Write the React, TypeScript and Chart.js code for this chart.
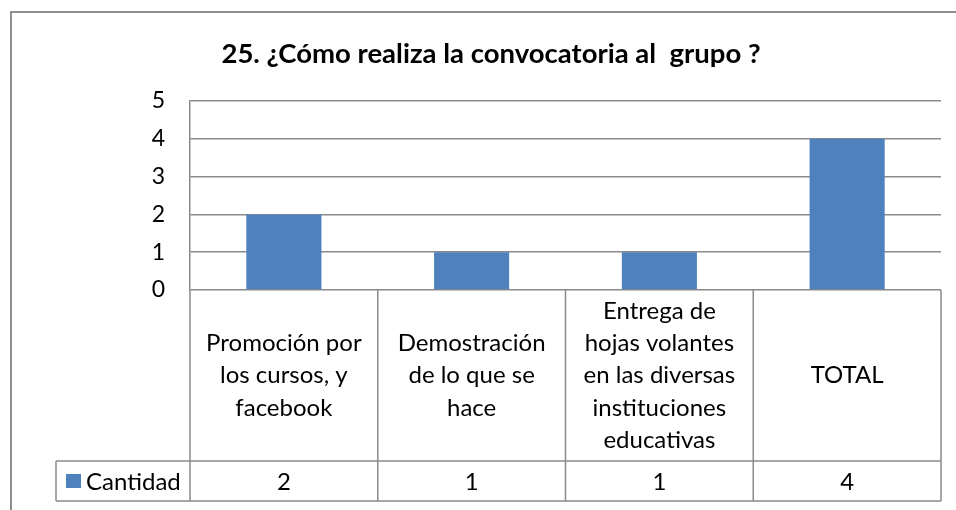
import React, { useEffect, useRef } from "react";
import { Chart, registerables } from "chart.js";

Chart.register(...registerables);

const chartTitle = "25. ¿Cómo realiza la convocatoria al  grupo ?";
const categories: string[][] = [
  ["Promoción por", "los cursos, y", "facebook"],
  ["Demostración", "de lo que se", "hace"],
  ["Entrega de", "hojas volantes", "en las diversas", "instituciones", "educativas"],
  ["TOTAL"],
];
const seriesName = "Cantidad";
const cantidad = [2, 1, 1, 4];
const yTicks = [0, 1, 2, 3, 4, 5];

const FONT = "Lato, 'Open Sans', sans-serif";
const GRID = "#8a8a8a";
const BAR = "#4F81BD";

const tablePlugin = {
  id: "dataTable",
  afterDraw(chart: any) {
    const ctx = chart.ctx as CanvasRenderingContext2D;
    const xs = chart.scales.x;
    const area = chart.chartArea;
    const n = categories.length;
    const colW = (area.right - area.left) / n;
    const top = area.bottom;
    const rowTop = 461;
    const rowBottom = 501;
    const legendLeft = 56;

    ctx.save();
    // outer frame
    ctx.strokeStyle = "#8e8e8e";
    ctx.lineWidth = 2;
    ctx.beginPath();
    ctx.moveTo(11, 510);
    ctx.lineTo(11, 12);
    ctx.lineTo(956, 12);
    ctx.stroke();

    // title
    ctx.fillStyle = "#000";
    ctx.font = `bold 27.5px ${FONT}`;
    ctx.textAlign = "center";
    ctx.textBaseline = "middle";
    ctx.fillText(chartTitle, 491, 54);

    // table lines
    ctx.strokeStyle = GRID;
    ctx.lineWidth = 1.5;
    ctx.beginPath();
    for (let i = 0; i <= n; i++) {
      const x = area.left + i * colW;
      ctx.moveTo(x, top);
      ctx.lineTo(x, rowBottom);
    }
    ctx.moveTo(legendLeft, rowTop);
    ctx.lineTo(area.right, rowTop);
    ctx.moveTo(legendLeft, rowBottom);
    ctx.lineTo(area.right, rowBottom);
    ctx.moveTo(legendLeft, rowTop);
    ctx.lineTo(legendLeft, rowBottom);
    ctx.stroke();

    // category labels
    ctx.fillStyle = "#000";
    ctx.font = `24px ${FONT}`;
    ctx.textAlign = "center";
    ctx.textBaseline = "middle";
    const lh = 32.3;
    const midY = (top + rowTop) / 2;
    categories.forEach((lines, i) => {
      const cx = xs.getPixelForValue(i);
      const start = midY - ((lines.length - 1) * lh) / 2;
      lines.forEach((ln, j) => ctx.fillText(ln, cx, start + j * lh));
      ctx.fillText(String(cantidad[i]), cx, (rowTop + rowBottom) / 2 + 1);
    });

    // legend key
    ctx.fillStyle = BAR;
    ctx.fillRect(66, 474, 15, 14);
    ctx.fillStyle = "#000";
    ctx.textAlign = "left";
    ctx.fillText(seriesName, 86, (rowTop + rowBottom) / 2 + 1);
    ctx.restore();
  },
};

export default function App() {
  const ref = useRef<HTMLCanvasElement>(null);
  useEffect(() => {
    document.body.style.margin = "0";
    const chart = new Chart(ref.current!, {
      type: "bar",
      data: {
        labels: categories.map((c) => c.join(" ")),
        datasets: [
          {
            label: seriesName,
            data: cantidad,
            backgroundColor: BAR,
            barPercentage: 0.4,
            categoryPercentage: 1,
          },
        ],
      },
      options: {
        responsive: false,
        animation: false,
        layout: { padding: { top: 101, right: 15, bottom: 220, left: 0 } },
        plugins: {
          legend: { display: false },
          title: { display: false },
          tooltip: { enabled: false },
        },
        scales: {
          x: { display: false },
          y: {
            min: yTicks[0],
            max: yTicks[yTicks.length - 1],
            afterFit: (s: any) => {
              s.width = 190;
            },
            afterBuildTicks: (s: any) => {
              s.ticks = yTicks.map((v) => ({ value: v }));
            },
            ticks: {
              color: "#000",
              padding: 25,
              font: { family: FONT, size: 23 },
            },
            grid: { color: GRID, lineWidth: 1.5, drawTicks: false },
            border: { display: true, color: GRID, width: 1.5 },
          },
        },
      },
      plugins: [tablePlugin],
    });
    return () => chart.destroy();
  }, []);
  return (
    <div style={{ position: "absolute", left: 0, top: 0, width: 956, height: 510 }}>
      <canvas ref={ref} width={956} height={510} />
    </div>
  );
}
